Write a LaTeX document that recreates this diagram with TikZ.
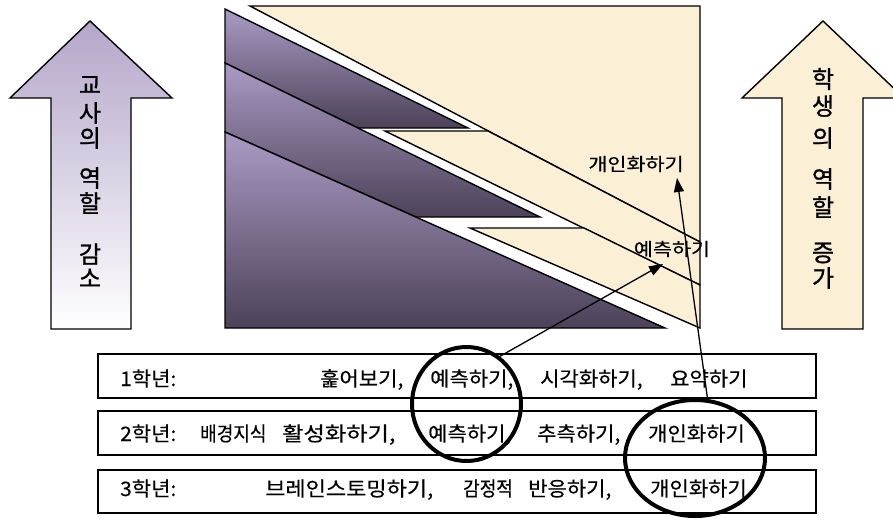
\documentclass[tikz,border=0pt]{standalone}
\usepackage{fontspec}
\newfontfamily\kr[FakeBold=0.4]{Noto Sans CJK KR}
\newfontfamily\krb[FakeBold=1]{Noto Sans CJK KR}
\usetikzlibrary{shapes.geometric,arrows.meta}
\definecolor{beige}{HTML}{FBEFD6}
\definecolor{plight}{HTML}{AA9BC4}
\definecolor{pdark}{HTML}{4C4259}
\definecolor{alight}{HTML}{B4A6CA}
\newcommand\widetxt[2][1.05]{\scalebox{#1}[1]{#2}}
\newcommand\midtxt[1]{\scalebox{1.15}[1]{#1}}
\begin{document}
\begin{tikzpicture}[x=1pt,y=-1pt,
  outl/.style={draw=black,line width=1.4pt,line join=miter},
  vt/.style={inner sep=0pt,font=\krb\fontsize{24}{24}\selectfont},
  bt/.style={anchor=base west,inner sep=0pt,font=\kr\fontsize{20}{20}\selectfont},
  mt/.style={inner sep=0pt,font=\kr\fontsize{18}{18}\selectfont},
  boxst/.style={draw=black,line width=1.6pt,minimum width=718pt,inner sep=0pt,fill=white},
  circ/.style={ellipse,draw=black,line width=4pt,inner sep=0pt},
  conn/.style={draw=black,line width=1.3pt,-{Triangle[length=14pt,width=10pt]}}]
\clip (0,0) rectangle (893,519);
\fill[white] (0,0) rectangle (893,519);
% beige stair shapes
\path[outl,fill=beige] (250,6) -- (700,6) -- (700,242) -- cycle;
\path[outl,fill=beige] (385,131) -- (488,131) -- (700,242) -- (700,285) -- cycle;
\path[outl,fill=beige] (470,228) -- (584,228) -- (700,285) -- (700,328) -- cycle;
% purple stair shapes
\path[outl,top color=plight,bottom color=pdark] (225,9) -- (468,128) -- (358,128) -- (225,63) -- cycle;
\path[outl,top color=plight,bottom color=pdark] (225,63) -- (540,217) -- (416,217) -- (225,132) -- cycle;
\path[outl,top color=plight,bottom color=pdark] (225,132) -- (665,328) -- (225,328) -- cycle;
% big arrows
\path[outl,top color=alight,bottom color=white] (90,21) -- (172,98) -- (131,98) -- (131,329) -- (51,329) -- (51,98) -- (10,98) -- cycle;
\path[outl,fill=beige] (823,21) -- (904,98) -- (863,98) -- (863,329) -- (782,329) -- (782,98) -- (742,98) -- cycle;
\foreach \c/\y [count=\i] in {교/85,사/113,의/138,역/178,할/203,감/254,소/278}
  \node[vt,name=l\i] at (90,\y) {\c};
\foreach \c/\y [count=\i] in {학/79,생/106,의/138,역/179,할/207,증/253,가/278}
  \node[vt,name=r\i] at (823,\y) {\c};
% labels in the picture
\node[mt] (lab1) at (636,164) {\midtxt{개인화하기}};
\node[mt] (lab2) at (672,249) {\midtxt{예측하기}};
% boxes
\node[boxst,minimum height=44pt] (b1) at (457,376) {};
\node[boxst,minimum height=44pt] (b2) at (457,433) {};
\node[boxst,minimum height=43pt] (b3) at (457,491.5) {};
% box texts
\node[bt] (g1) at (120,386) {\widetxt{1학년:}};
\node[bt] (g1a) at (320,386) {\widetxt{훑어보기,}};
\node[bt] (g1b) at (430,386) {\widetxt{예측하기,}};
\node[bt] (g1c) at (540,386) {\widetxt{시각화하기,}};
\node[bt] (g1d) at (670,386) {\widetxt{요약하기}};
\node[bt] (g2) at (120,441) {\widetxt{2학년:}};
\node[bt] (g2a) at (200,441) {\widetxt[0.9]{배경지식}};
\node[bt] (g2b) at (282,441) {\widetxt[1.16]{활성화하기,}};
\node[bt] (g2c) at (428,441) {\widetxt{예측하기,}};
\node[bt] (g2d) at (537,441) {\widetxt{추측하기,}};
\node[bt] (g2e) at (648,441) {\widetxt{개인화하기}};
\node[bt] (g3) at (120,496) {\widetxt{3학년:}};
\node[bt] (g3a) at (265,496) {\widetxt[1.1]{브레인스토밍하기,}};
\node[bt] (g3b) at (463,496) {\widetxt[0.9]{감정적}};
\node[bt] (g3c) at (528,496) {\widetxt{반응하기,}};
\node[bt] (g3d) at (650,496) {\widetxt{개인화하기}};
% circles
\node[circ,minimum width=109pt,minimum height=114pt] (lc) at (466.5,404) {};
\node[circ,minimum width=140pt,minimum height=116pt] (rc) at (695,458) {};
% connectors
\coordinate (t1) at (663,264);
\coordinate (t2) at (677,178);
\draw[conn] (lc.55) -- (t1);
\draw[conn] (rc.78) -- (t2);
\end{tikzpicture}
\end{document}
